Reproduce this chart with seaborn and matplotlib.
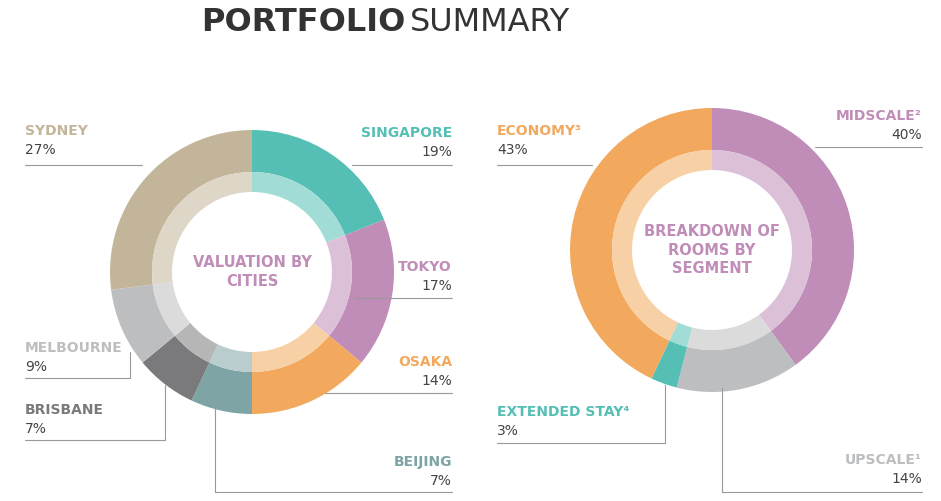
import matplotlib
matplotlib.use("Agg")
import matplotlib.pyplot as plt
import seaborn as sns
from matplotlib.colors import to_rgb

sns.set_theme(style="white")
plt.rcParams['font.family'] = ['DejaVu Sans']

cities = ["SINGAPORE", "TOKYO", "OSAKA", "BEIJING", "BRISBANE", "MELBOURNE", "SYDNEY"]
city_vals = [19, 17, 14, 7, 7, 9, 27]
city_cols = ["#55BFB5", "#C08DB8", "#F2A95E", "#7FA4A6", "#7A7A7C", "#BDBEC0", "#C3B59A"]

segments = ["MIDSCALE²", "UPSCALE¹", "EXTENDED STAY⁴", "ECONOMY³"]
seg_vals = [40, 14, 3, 43]
seg_cols = ["#C08DB8", "#BDBEC0", "#55BFB5", "#F2A95E"]

def light(c, f=0.45):
    r, g, b = to_rgb(c)
    return (r + (1 - r) * f, g + (1 - g) * f, b + (1 - b) * f)

fig = plt.figure(figsize=(9.41, 5.01), dpi=100)
ax = fig.add_axes([0, 0, 1, 1])

def donut(vals, cols, cx, cy):
    ax.pie(vals, colors=cols, radius=142, center=(cx, cy), startangle=-90, counterclock=True,
           wedgeprops=dict(width=42, linewidth=0), frame=True)
    ax.pie(vals, colors=[light(c) for c in cols], radius=100, center=(cx, cy), startangle=-90,
           counterclock=True, wedgeprops=dict(width=20, linewidth=0), frame=True)

donut(city_vals, city_cols, 252, 272)
donut(seg_vals, seg_cols, 712, 250)
ax.set_xlim(0, 941); ax.set_ylim(501, 0); ax.set_aspect('equal'); ax.axis('off')

pink = "#C08DB8"
ax.text(252, 272, "VALUATION BY\nCITIES", ha='center', va='center', color=pink, fontsize=10.5, fontweight='bold', linespacing=1.3)
ax.text(712, 250, "BREAKDOWN OF\nROOMS BY\nSEGMENT", ha='center', va='center', color=pink, fontsize=10.5, fontweight='bold', linespacing=1.3)

ax.text(406, 22, "PORTFOLIO", ha='right', va='center', fontsize=23, fontweight='bold', color="#333333")
ax.text(410, 22, "SUMMARY", ha='left', va='center', fontsize=23, color="#333333")

lc = "#999999"
def lab(x, y, name, val, col, ha):
    ax.text(x, y, name, ha=ha, va='center', color=col, fontsize=10, fontweight='bold')
    ax.text(x, y + 19, f"{val}%", ha=ha, va='center', color="#444444", fontsize=10)

def line(xs, ys):
    ax.plot(xs, ys, color=lc, lw=0.8)

lab(25, 131, cities[6], city_vals[6], city_cols[6], 'left'); line([25, 142], [165, 165])
lab(452, 133, cities[0], city_vals[0], city_cols[0], 'right'); line([352, 452], [165, 165])
lab(452, 267, cities[1], city_vals[1], city_cols[1], 'right'); line([355, 452], [298, 298])
lab(452, 362, cities[2], city_vals[2], city_cols[2], 'right'); line([325, 452], [393, 393])
lab(452, 462, cities[3], city_vals[3], city_cols[3], 'right'); line([215, 215, 452], [385, 492, 492])
lab(25, 348, cities[5], city_vals[5], city_cols[5], 'left'); line([25, 130, 130], [378, 378, 352])
lab(25, 410, cities[4], city_vals[4], city_cols[4], 'left'); line([25, 165, 165], [440, 440, 385])

lab(497, 131, segments[3], seg_vals[3], seg_cols[3], 'left'); line([497, 592], [165, 165])
lab(922, 116, segments[0], seg_vals[0], seg_cols[0], 'right'); line([815, 922], [147, 147])
lab(497, 412, segments[2], seg_vals[2], seg_cols[2], 'left'); line([497, 665, 665], [443, 443, 385])
lab(922, 460, segments[1], seg_vals[1], seg_cols[1], 'right'); line([722, 722, 922], [388, 492, 492])

fig.savefig("out.png", dpi=100, facecolor='white')
